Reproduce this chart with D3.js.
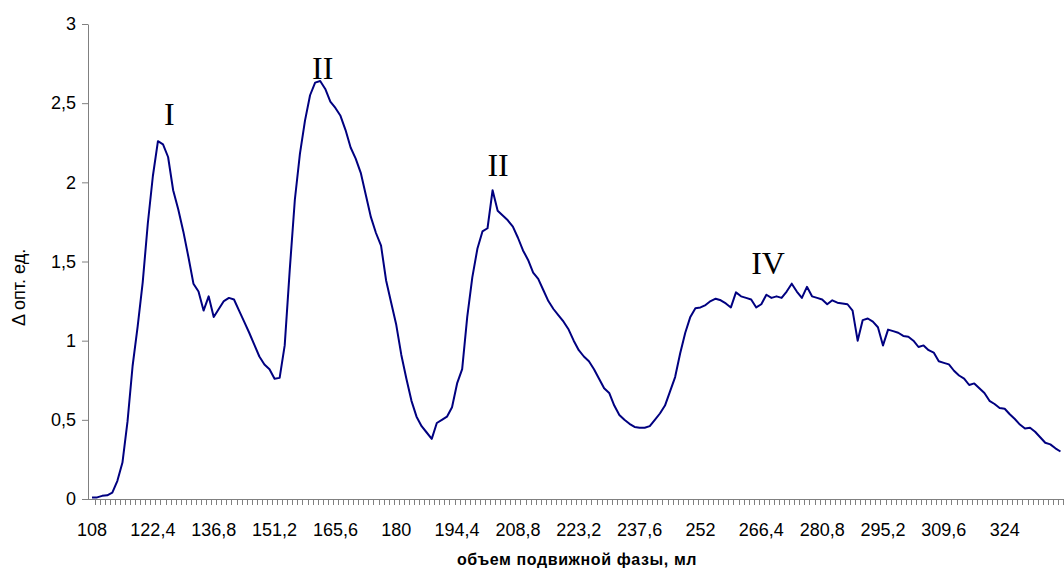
<!DOCTYPE html>
<html>
  <head>
    <meta charset="utf-8">
    <title>chromatogram</title>
    <script src="https://cdn.jsdelivr.net/npm/d3@7/dist/d3.min.js"></script>
    <style>
body { margin: 0; background: #fff; }
.axis path, .axis line { stroke: #808080; }
.axis text { font-family: Arial, "Liberation Sans", sans-serif; font-size: 18px; fill: #000; }
.peak { font-family: "Times New Roman", "Liberation Serif", serif; font-size: 32px; fill: #000; }
    </style>
  </head>
  <body>
    <script>

// объем подвижной фазы, мл (one point every 1.2 ml)
var volumes = [
  108, 109.2, 110.4, 111.6, 112.8, 114, 115.2, 116.4, 117.6, 118.8, 120, 121.2,
  122.4, 123.6, 124.8, 126, 127.2, 128.4, 129.6, 130.8, 132, 133.2, 134.4, 135.6,
  136.8, 138, 139.2, 140.4, 141.6, 142.8, 144, 145.2, 146.4, 147.6, 148.8, 150,
  151.2, 152.4, 153.6, 154.8, 156, 157.2, 158.4, 159.6, 160.8, 162, 163.2, 164.4,
  165.6, 166.8, 168, 169.2, 170.4, 171.6, 172.8, 174, 175.2, 176.4, 177.6, 178.8,
  180, 181.2, 182.4, 183.6, 184.8, 186, 187.2, 188.4, 189.6, 190.8, 192, 193.2,
  194.4, 195.6, 196.8, 198, 199.2, 200.4, 201.6, 202.8, 204, 205.2, 206.4, 207.6,
  208.8, 210, 211.2, 212.4, 213.6, 214.8, 216, 217.2, 218.4, 219.6, 220.8, 222,
  223.2, 224.4, 225.6, 226.8, 228, 229.2, 230.4, 231.6, 232.8, 234, 235.2, 236.4,
  237.6, 238.8, 240, 241.2, 242.4, 243.6, 244.8, 246, 247.2, 248.4, 249.6, 250.8,
  252, 253.2, 254.4, 255.6, 256.8, 258, 259.2, 260.4, 261.6, 262.8, 264, 265.2,
  266.4, 267.6, 268.8, 270, 271.2, 272.4, 273.6, 274.8, 276, 277.2, 278.4, 279.6,
  280.8, 282, 283.2, 284.4, 285.6, 286.8, 288, 289.2, 290.4, 291.6, 292.8, 294,
  295.2, 296.4, 297.6, 298.8, 300, 301.2, 302.4, 303.6, 304.8, 306, 307.2, 308.4,
  309.6, 310.8, 312, 313.2, 314.4, 315.6, 316.8, 318, 319.2, 320.4, 321.6, 322.8,
  324, 325.2, 326.4, 327.6, 328.8, 330, 331.2, 332.4, 333.6, 334.8, 336, 337.2
];

// Δ опт. ед.
var absorb = [
  0.01, 0.01, 0.02, 0.023, 0.04, 0.115, 0.23, 0.49, 0.84, 1.09, 1.37, 1.74,
  2.04, 2.26, 2.24, 2.16, 1.95, 1.83, 1.69, 1.53, 1.36, 1.31, 1.19, 1.28,
  1.15, 1.20, 1.25, 1.27, 1.26, 1.19, 1.12, 1.05, 0.975, 0.90, 0.85, 0.82,
  0.76, 0.765, 0.97, 1.45, 1.89, 2.18, 2.39, 2.55, 2.63, 2.64, 2.59, 2.51,
  2.47, 2.42, 2.33, 2.22, 2.15, 2.06, 1.92, 1.78, 1.68, 1.60, 1.38, 1.24,
  1.10, 0.91, 0.76, 0.62, 0.52, 0.46, 0.42, 0.38, 0.48, 0.50, 0.52, 0.58,
  0.73, 0.82, 1.15, 1.40, 1.58, 1.69, 1.71, 1.95, 1.82, 1.79, 1.76, 1.72,
  1.65, 1.57, 1.51, 1.43, 1.39, 1.32, 1.25, 1.20, 1.16, 1.12, 1.07, 1.00,
  0.94, 0.90, 0.87, 0.82, 0.76, 0.70, 0.67, 0.59, 0.53, 0.50, 0.475, 0.455,
  0.45, 0.45, 0.46, 0.50, 0.54, 0.59, 0.68, 0.77, 0.92, 1.05, 1.15, 1.205,
  1.21, 1.225, 1.25, 1.265, 1.255, 1.235, 1.21, 1.305, 1.28, 1.27, 1.26, 1.21,
  1.23, 1.29, 1.27, 1.28, 1.27, 1.31, 1.36, 1.31, 1.27, 1.34, 1.28, 1.27,
  1.26, 1.23, 1.255, 1.24, 1.235, 1.23, 1.19, 1.00, 1.13, 1.14, 1.12, 1.085,
  0.97, 1.07, 1.06, 1.05, 1.03, 1.025, 1.00, 0.96, 0.97, 0.94, 0.925, 0.87,
  0.86, 0.85, 0.81, 0.78, 0.76, 0.72, 0.73, 0.70, 0.67, 0.62, 0.60, 0.575,
  0.57, 0.535, 0.505, 0.47, 0.445, 0.45, 0.425, 0.39, 0.355, 0.345, 0.32, 0.30
];

var xTickLabels = [108, 122.4, 136.8, 151.2, 165.6, 180, 194.4, 208.8, 223.2,
                   237.6, 252, 266.4, 280.8, 295.2, 309.6, 324];
var yTicks = [0, 0.5, 1, 1.5, 2, 2.5, 3];

var peakNames = ["I", "II", "II", "IV"];
var peakAt = [126.3, 162.6, 204.1, 268];   // volume under each label
var peakY = [2.36, 2.65, 2.04, 1.42];      // label baseline, y units

var width = 1064, height = 570;
var plotL = 88, plotR = 1063, plotT = 24, plotB = 499;

var svg = d3.select("body").append("svg")
    .attr("width", width)
    .attr("height", height);

var x = d3.scaleBand()
    .domain(volumes)
    .range([plotL + 1.5, plotR]);

// continuous companion of the band scale, for placing the peak names
var xv = d3.scaleLinear()
    .domain([volumes[0], volumes[volumes.length - 1]])
    .range([x(volumes[0]) + x.bandwidth() / 2, x(volumes[volumes.length - 1]) + x.bandwidth() / 2]);

var y = d3.scaleLinear()
    .domain([0, 3])
    .range([plotB, plotT]);

var fmt = function(d) { return String(d).replace(".", ","); };

// y axis
svg.append("g")
    .attr("class", "axis")
    .attr("transform", "translate(" + plotL + ",0)")
    .call(d3.axisLeft(y).tickValues(yTicks).tickSize(6).tickPadding(6).tickSizeOuter(0).tickFormat(fmt));

// x axis: line + a small tick between every category, labels every 12th
var xg = svg.append("g")
    .attr("class", "axis")
    .attr("transform", "translate(0," + plotB + ")");

xg.append("line")
    .attr("x1", plotL).attr("x2", width)
    .attr("y1", 0.5).attr("y2", 0.5);

xg.selectAll("line.tick")
  .data(volumes)
  .enter().append("line")
    .attr("class", "tick")
    .attr("x1", function(d) { return Math.round(x(d) + x.bandwidth()) + 0.5; })
    .attr("x2", function(d) { return Math.round(x(d) + x.bandwidth()) + 0.5; })
    .attr("y1", 0).attr("y2", 6);

xg.selectAll("text")
  .data(xTickLabels)
  .enter().append("text")
    .attr("x", function(d) { return x(d) + x.bandwidth() / 2; })
    .attr("y", 37)
    .attr("text-anchor", "middle")
    .text(fmt);

// curve
var line = d3.line()
    .x(function(d, i) { return x(volumes[i]) + x.bandwidth() / 2; })
    .y(function(d) { return y(d); });

svg.append("path")
    .datum(absorb)
    .attr("d", line)
    .attr("fill", "none")
    .attr("stroke", "#000080")
    .attr("stroke-width", 2)
    .attr("stroke-linejoin", "round");

// peak numbers
svg.selectAll("text.peak")
  .data(peakNames)
  .enter().append("text")
    .attr("class", "peak")
    .attr("x", function(d, i) { return xv(peakAt[i]); })
    .attr("y", function(d, i) { return y(peakY[i]); })
    .attr("text-anchor", "middle")
    .text(function(d) { return d; });

// axis titles
svg.append("text")
    .attr("transform", "translate(25,326) rotate(-90)")
    .attr("text-anchor", "start")
    .style("font-family", "Arial, 'Liberation Sans', sans-serif")
    .style("font-size", "18px")
    .text("Δ опт. ед.");

svg.append("text")
    .attr("x", 577)
    .attr("y", 565)
    .attr("text-anchor", "middle")
    .style("font-family", "Arial, 'Liberation Sans', sans-serif")
    .style("font-size", "16px")
    .style("font-weight", "bold")
    .style("letter-spacing", "0.6px")
    .text("объем подвижной фазы, мл");

</script>
  </body>
</html>
